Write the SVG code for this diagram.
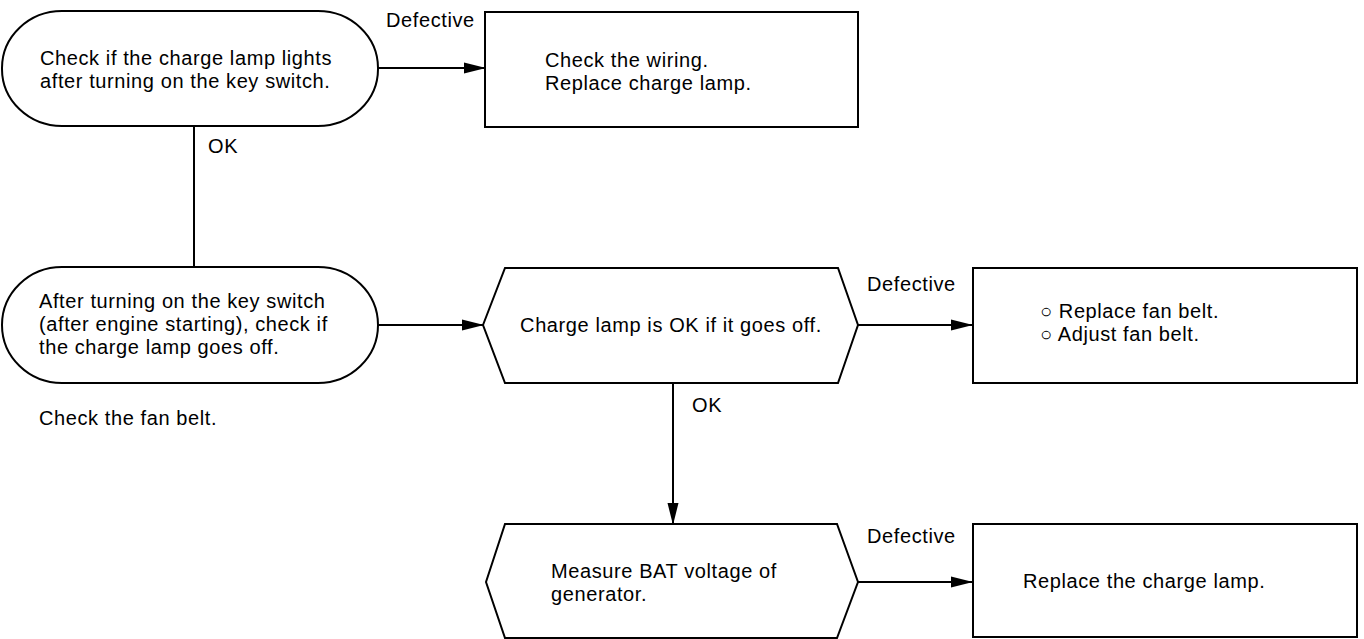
<svg xmlns="http://www.w3.org/2000/svg" width="1364" height="639" viewBox="0 0 1364 639">
<defs>
<style>
.shape{fill:#fff;stroke:#000;stroke-width:2}
.line{fill:none;stroke:#000;stroke-width:2}
text{font-family:"Liberation Sans",Arial,sans-serif;font-size:20px;letter-spacing:0.6px;fill:#000}
</style>
<marker id="arr" markerUnits="userSpaceOnUse" markerWidth="22" markerHeight="12" refX="21" refY="6" orient="auto">
<path d="M0,0.5 L22,6 L0,11.5 Z" fill="#000"/>
</marker>
</defs>
<rect width="1364" height="639" fill="#fff"/>
<g id="connectors">
<line class="line" x1="378" y1="68" x2="485" y2="68" marker-end="url(#arr)"/>
<text x="386" y="27">Defective</text>
<line class="line" x1="194" y1="126" x2="194" y2="267"/>
<text x="208" y="153">OK</text>
<line class="line" x1="378" y1="325" x2="483" y2="325" marker-end="url(#arr)"/>
<line class="line" x1="858" y1="325" x2="972" y2="325" marker-end="url(#arr)"/>
<text x="867" y="291">Defective</text>
<line class="line" x1="673" y1="383" x2="673" y2="524" marker-end="url(#arr)"/>
<text x="692" y="412">OK</text>
<line class="line" x1="858" y1="582" x2="972" y2="582" marker-end="url(#arr)"/>
<text x="867" y="543">Defective</text>
</g>
<g id="n1">
<rect class="shape" x="2" y="11" width="376" height="115" rx="60" ry="57"/>
<text x="40" y="65">Check if the charge lamp lights</text>
<text x="40" y="88">after turning on the key switch.</text>
</g>
<g id="n2">
<rect class="shape" x="485" y="12" width="373" height="115"/>
<text x="545" y="67">Check the wiring.</text>
<text x="545" y="90">Replace charge lamp.</text>
</g>
<g id="n3">
<rect class="shape" x="2" y="267" width="376" height="116" rx="60" ry="58"/>
<text x="39" y="308">After turning on the key switch</text>
<text x="39" y="331">(after engine starting), check if</text>
<text x="39" y="354">the charge lamp goes off.</text>
</g>
<g id="note">
<text x="39" y="425">Check the fan belt.</text>
</g>
<g id="n4">
<polygon class="shape" points="483,325 505,268 838,268 858,325 838,383 505,383"/>
<text x="671" y="332" text-anchor="middle">Charge lamp is OK if it goes off.</text>
</g>
<g id="n5">
<rect class="shape" x="973" y="268" width="384" height="115"/>
<text x="1040" y="318">○ Replace fan belt.</text>
<text x="1040" y="341">○ Adjust fan belt.</text>
</g>
<g id="n6">
<polygon class="shape" points="486,582 505,524 837,524 858,582 837,638 505,638"/>
<text x="551" y="578">Measure BAT voltage of</text>
<text x="551" y="601">generator.</text>
</g>
<g id="n7">
<rect class="shape" x="973" y="524" width="384" height="113"/>
<text x="1023" y="588">Replace the charge lamp.</text>
</g>
</svg>
